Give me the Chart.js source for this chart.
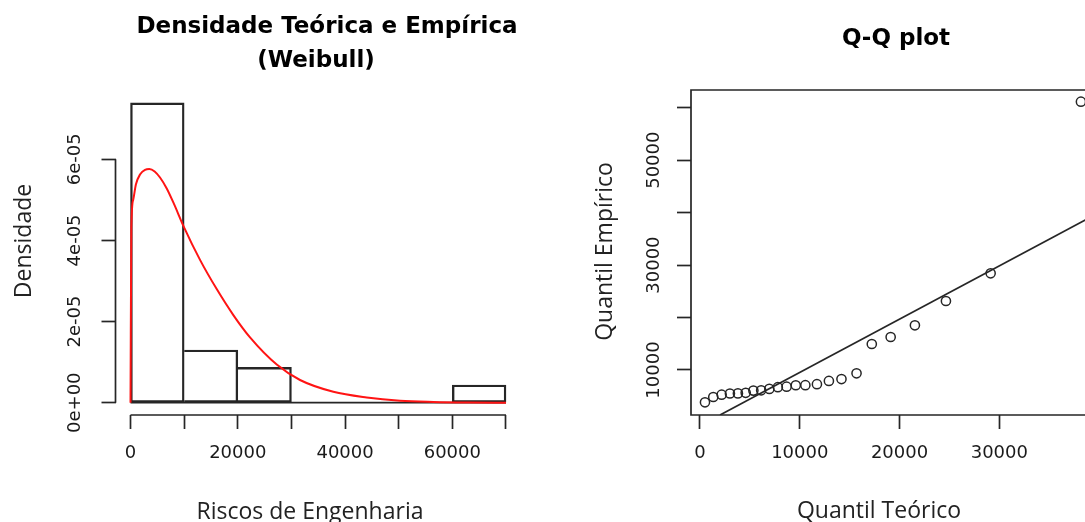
<!DOCTYPE html>
<html>
<head>
<meta charset="utf-8">
<script src="https://cdn.jsdelivr.net/npm/chart.js@4"></script>
<style>
  html, body { margin: 0; padding: 0; background: #fff; overflow: hidden; width: 1085px; height: 522px; }
  #wrap { position: relative; width: 1085px; height: 522px; overflow: hidden; }
  .panel { position: absolute; top: 0; width: 560px; height: 522px; }
  #left { left: 0; }
  #right { left: 560px; }
</style>
</head>
<body>
<div id="wrap">
  <div class="panel" id="left"><canvas id="histCanvas" width="560" height="522"></canvas></div>
  <div class="panel" id="right"><canvas id="qqCanvas" width="560" height="522"></canvas></div>
</div>
<script>
// histograma: limites das classes e densidades
const BREAKS = [0, 10000, 20000, 30000, 40000, 50000, 60000, 70000];
const DENS = [7.39e-5, 1.30e-5, 0.87e-5, 0, 0, 0, 0.435e-5];

// densidade Weibull ajustada (curva vermelha)
const CURVE_X = [0, 150, 500, 1000, 1800, 2700, 3500, 4500, 5500, 6750, 8000, 9920,
  12960, 16070, 19170, 22280, 27260, 31600, 37810, 44030, 50240, 56460, 63000, 70000];
const CURVE_Y = [0, 4.3e-5, 5.0e-5, 5.38e-5, 5.63e-5, 5.74e-5, 5.76e-5, 5.70e-5, 5.55e-5, 5.28e-5,
  4.93e-5, 4.34e-5, 3.52e-5, 2.80e-5, 2.16e-5, 1.61e-5, 0.94e-5, 0.56e-5, 0.27e-5, 0.13e-5,
  0.05e-5, 0.02e-5, 0.006e-5, 0];

const HIST_XTICKS = [0, 10000, 20000, 30000, 40000, 50000, 60000, 70000];
const HIST_XLABELS = ['0', '', '20000', '', '40000', '', '60000', ''];
const HIST_YTICKS = [0, 2e-5, 4e-5, 6e-5];
const HIST_YLABELS = ['0e+00', '2e-05', '4e-05', '6e-05'];

// Q-Q plot: quantis teóricos x empíricos
const QQ_TEO = [500, 1330, 2170, 3000, 3800, 4580, 5350, 6130, 6950, 7800, 8680, 9600, 10560,
  11720, 12920, 14180, 15690, 17220, 19110, 21540, 24650, 29130, 38180];
const QQ_EMP = [3840, 4850, 5290, 5520, 5540, 5650, 6070, 6130, 6400, 6720, 6820, 7090, 7110,
  7290, 7920, 8270, 9370, 14960, 16290, 18520, 23150, 28430, 61140];
const QQLINE_X = [2005, 39741];
const QQLINE_Y = [1422, 39760];

const QQ_XTICKS = [0, 10000, 20000, 30000];
const QQ_XLABELS = ['0', '10000', '20000', '30000'];
const QQ_YTICKS = [10000, 20000, 30000, 40000, 50000, 60000];
const QQ_YLABELS = ['10000', '', '30000', '', '50000', ''];

const INK = '#262626';
const LW = 1.7;
const TICK_FONT = { family: "'DejaVu Sans', sans-serif", size: 18 };
const TITLE_FONT = "bold 23px 'DejaVu Sans', sans-serif";
const LAB_FONT = "23px 'Open Sans', sans-serif";

// eixos no estilo do R: linha só entre o primeiro e o último tick, rótulos do y girados
const rStyle = {
  id: 'rStyle',
  afterDraw(chart, args, o) {
    const { ctx, chartArea: a, scales: { x, y } } = chart;
    ctx.save();
    ctx.strokeStyle = INK;
    ctx.lineWidth = LW;
    ctx.beginPath();
    if (o.box) {
      ctx.rect(a.left, a.top, a.right - a.left, a.bottom - a.top);
    } else {
      const xt = x.ticks, yt = y.ticks;
      ctx.moveTo(x.getPixelForValue(xt[0].value), a.bottom);
      ctx.lineTo(x.getPixelForValue(xt[xt.length - 1].value), a.bottom);
      ctx.moveTo(a.left, y.getPixelForValue(yt[0].value));
      ctx.lineTo(a.left, y.getPixelForValue(yt[yt.length - 1].value));
    }
    ctx.stroke();

    ctx.fillStyle = '#1a1a1a';
    ctx.textAlign = 'center';
    ctx.textBaseline = 'alphabetic';
    ctx.font = `${TICK_FONT.size}px ${TICK_FONT.family}`;
    y.ticks.forEach((t, i) => {
      const lab = o.yLabels[i];
      if (!lab) return;
      ctx.save();
      ctx.translate(o.yLabelX, y.getPixelForValue(t.value));
      ctx.rotate(-Math.PI / 2);
      ctx.fillText(lab, 0, 0);
      ctx.restore();
    });

    ctx.fillStyle = '#000';
    ctx.font = TITLE_FONT;
    o.title.forEach((l) => ctx.fillText(l.text, l.x, l.y));

    ctx.fillStyle = '#222';
    ctx.font = LAB_FONT;
    ctx.fillText(o.xTitle.text, o.xTitle.x, o.xTitle.y);
    ctx.save();
    ctx.translate(o.yTitle.x, o.yTitle.y);
    ctx.rotate(-Math.PI / 2);
    ctx.fillText(o.yTitle.text, 0, 0);
    ctx.restore();
    ctx.restore();
  }
};

function axis(cfg) {
  return {
    type: 'linear',
    min: cfg.min,
    max: cfg.max,
    offset: false,
    afterBuildTicks: (s) => { s.ticks = cfg.ticks.map((v) => ({ value: v })); },
    afterFit: cfg.fit,
    border: { display: false },
    grid: { offset: false, drawOnChartArea: false, drawTicks: true, tickLength: 14, tickColor: INK, tickWidth: LW },
    ticks: cfg.labels ? {
      autoSkip: false, maxRotation: 0, minRotation: 0, padding: 14, color: '#1a1a1a', font: TICK_FONT,
      callback: (v, i) => cfg.labels[i]
    } : { display: false }
  };
}

new Chart(document.getElementById('histCanvas'), {
  type: 'bar',
  data: {
    datasets: [
      {
        type: 'line',
        data: CURVE_X.map((x, i) => ({ x, y: CURVE_Y[i] })),
        borderColor: '#ff1414',
        borderWidth: 2,
        pointRadius: 0,
        cubicInterpolationMode: 'monotone',
        order: 0
      },
      {
        type: 'line',
        data: [{ x: BREAKS[0], y: 0 }, { x: BREAKS[BREAKS.length - 1], y: 0 }],
        borderColor: INK,
        borderWidth: LW,
        pointRadius: 0,
        order: 1
      },
      {
        data: DENS.map((d, i) => ({ x: (BREAKS[i] + BREAKS[i + 1]) / 2, y: d })),
        backgroundColor: 'rgba(0,0,0,0)',
        borderColor: INK,
        borderWidth: LW,
        borderSkipped: DENS.map((d, i) => (i > 0 && DENS[i - 1] >= d ? 'left' : false)),
        barPercentage: 1,
        categoryPercentage: 1,
        order: 2
      }
    ]
  },
  options: {
    responsive: false,
    animation: false,
    layout: { padding: { left: 0, top: 83, right: 39, bottom: 0 } },
    plugins: {
      legend: { display: false },
      tooltip: { enabled: false },
      rStyle: {
        box: false,
        yLabels: HIST_YLABELS,
        yLabelX: 80,
        title: [
          { text: 'Densidade Teórica e Empírica', x: 327, y: 33 },
          { text: '(Weibull)', x: 316, y: 67 }
        ],
        xTitle: { text: 'Riscos de Engenharia', x: 310, y: 519 },
        yTitle: { text: 'Densidade', x: 31, y: 241 }
      }
    },
    scales: {
      x: axis({ min: -2800, max: 72800, ticks: HIST_XTICKS, labels: HIST_XLABELS, fit: (s) => { s.height = 107; } }),
      y: axis({ min: -0.303e-5, max: 7.88e-5, ticks: HIST_YTICKS, fit: (s) => { s.width = 115.5; } })
    }
  },
  plugins: [rStyle]
});

new Chart(document.getElementById('qqCanvas'), {
  type: 'scatter',
  data: {
    datasets: [
      {
        data: QQ_TEO.map((x, i) => ({ x, y: QQ_EMP[i] })),
        pointStyle: 'circle',
        pointRadius: 4.6,
        borderColor: INK,
        borderWidth: 1.5,
        backgroundColor: 'rgba(0,0,0,0)'
      },
      {
        type: 'line',
        data: QQLINE_X.map((x, i) => ({ x, y: QQLINE_Y[i] })),
        borderColor: INK,
        borderWidth: LW,
        pointRadius: 0
      }
    ]
  },
  options: {
    responsive: false,
    animation: false,
    layout: { padding: { left: 0, top: 90, right: 23.5, bottom: 0 } },
    plugins: {
      legend: { display: false },
      tooltip: { enabled: false },
      rStyle: {
        box: true,
        yLabels: QQ_YLABELS,
        yLabelX: 99,
        title: [{ text: 'Q-Q plot', x: 336, y: 45 }],
        xTitle: { text: 'Quantil Teórico', x: 319, y: 518 },
        yTitle: { text: 'Quantil Empírico', x: 51.5, y: 251.5 }
      }
    },
    scales: {
      x: axis({ min: -902, max: 39741, ticks: QQ_XTICKS, labels: QQ_XLABELS, fit: (s) => { s.height = 107; } }),
      y: axis({ min: 1422, max: 63374, ticks: QQ_YTICKS, fit: (s) => { s.width = 131; } })
    }
  },
  plugins: [rStyle]
});
</script>
</body>
</html>
